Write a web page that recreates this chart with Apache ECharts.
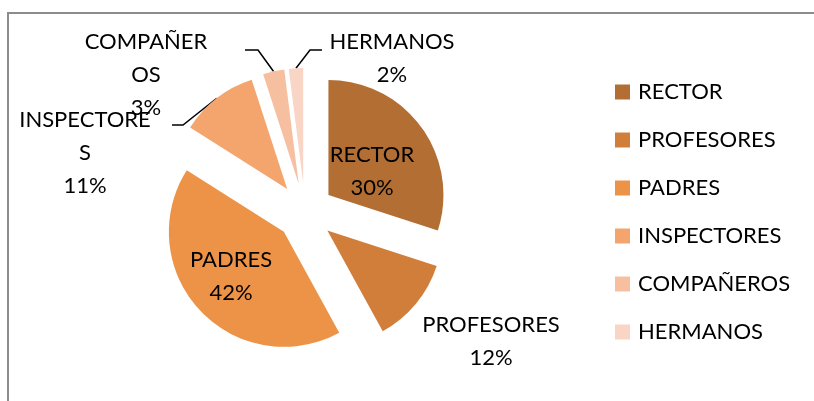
<!DOCTYPE html>
<html>
<head>
<meta charset="utf-8">
<script src="https://cdn.jsdelivr.net/npm/echarts@6/dist/echarts.min.js"></script>
<style>html,body{margin:0;padding:0;background:#fff}#c{width:814px;height:401px}</style>
</head>
<body>
<div id="c"></div>
<script>
var categories = ["RECTOR", "PROFESORES", "PADRES", "INSPECTORES", "COMPAÑEROS", "HERMANOS"];
var labelTexts = ["RECTOR", "PROFESORES", "PADRES", "INSPECTORE\nS", "COMPAÑER\nOS", "HERMANOS"];
var values = [30, 12, 42, 11, 3, 2];
var colors = ["#B26E33", "#D27E3B", "#EC9347", "#F4A56E", "#F6BF9F", "#F8D5C5"];

// layout (not data)
var CX = 305, CY = 212, R = 115, EXPLODE = 29;
var labelPos = [[372, 171], [491, 341], [231, 276], [85, 153], [146, 75], [392, 58]];
var lineEnds = [null, null, null, [[183, 125], [172, 125]], [[258, 50], [245, 50]], [[310, 50], [322, 50]]];
var FONT = "Lato";

var total = values.reduce(function (a, b) { return a + b; }, 0);
var cum = 0;
var series = categories.map(function (c, i) {
  var mid = (cum + values[i] / 2) / total * Math.PI * 2;
  cum += values[i];
  var center = [CX + EXPLODE * Math.sin(mid), CY - EXPLODE * Math.cos(mid)];
  return {
    type: 'pie',
    name: c,
    center: center,
    radius: R,
    startAngle: 90,
    clockwise: true,
    avoidLabelOverlap: false,
    emphasis: {disabled: true},
    silent: true,
    label: {
      show: false,
      fontFamily: FONT, fontSize: 22, color: '#000', lineHeight: 33,
      align: 'center',
      formatter: function (p) { return labelTexts[p.dataIndex] + '\n' + Math.round(p.percent) + '%'; }
    },
    labelLine: {show: false, lineStyle: {color: '#000', width: 1.5}},
    labelLayout: function (p) {
      var pos = labelPos[i];
      var res = {x: pos[0], y: pos[1], align: 'center', verticalAlign: 'middle'};
      if (lineEnds[i] && p.labelLinePoints) {
        res.labelLinePoints = [p.labelLinePoints[0], lineEnds[i][0], lineEnds[i][1]];
      }
      return res;
    },
    data: values.map(function (v, j) {
      var own = (j === i);
      return {
        name: categories[j],
        value: v,
        itemStyle: {color: own ? colors[j] : 'rgba(0,0,0,0)'},
        label: {show: own, position: (j === 0 || j === 2) ? 'inside' : 'outside'},
        labelLine: {show: own && !!lineEnds[j]}
      };
    })
  };
});

var chart = echarts.init(document.getElementById('c'), null, {renderer: 'canvas'});
chart.setOption({
  animation: false,
  graphic: [{
    type: 'rect', z: -10, silent: true,
    shape: {x: 8, y: 13, width: 900, height: 500},
    style: {fill: 'none', stroke: '#8c8c8c', lineWidth: 2}
  }],
  legend: {
    orient: 'vertical',
    left: 610, top: 72,
    icon: 'rect', itemWidth: 15, itemHeight: 15, itemGap: 18,
    selectedMode: false,
    data: categories.map(function (c, i) { return {name: c, itemStyle: {color: colors[i]}}; }),
    textStyle: {fontFamily: FONT, fontSize: 22, color: '#000', lineHeight: 30, padding: [0, 0, 0, 3]}
  },
  series: series
});
</script>
</body>
</html>
